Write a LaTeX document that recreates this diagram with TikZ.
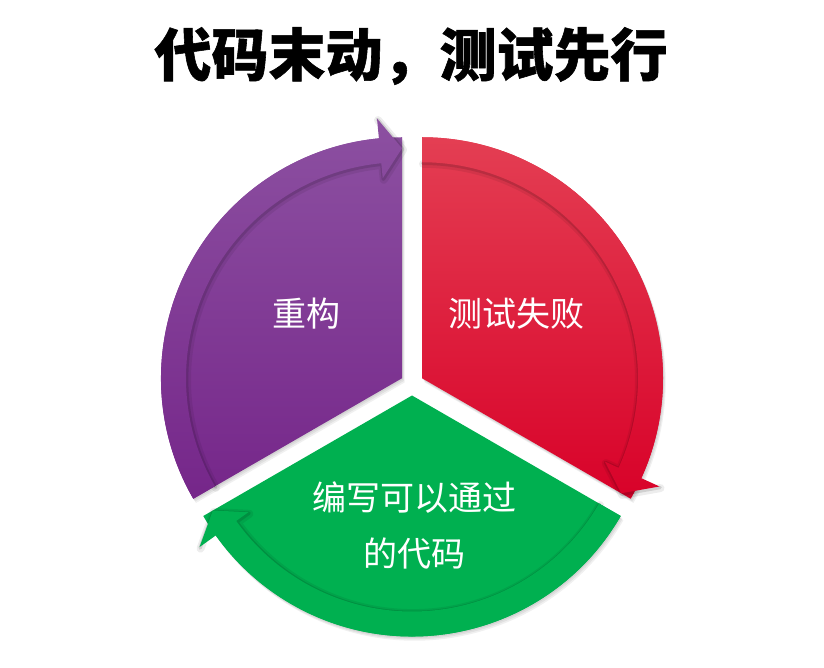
\documentclass[tikz,border=0pt]{standalone}
\usepackage{fontspec}
\newfontfamily\cjk{Noto Sans CJK SC}
\definecolor{purT}{RGB}{140,80,161}
\definecolor{purB}{RGB}{117,37,137}
\definecolor{redT}{RGB}{228,64,84}
\definecolor{redB}{RGB}{216,0,40}
\definecolor{grn}{RGB}{0,176,80}
\tikzset{
  secshade/.style={black,opacity=0.06},
  bandshadeA/.style={draw=black,opacity=0.07,line width=8pt,line join=round,line cap=round,shift={(1,-1.6)}},
  bandshadeB/.style={draw=black,opacity=0.12,line width=3.5pt,line join=round,line cap=round,shift={(0.6,-1)}},
  txt/.style={text=white,font=\cjk\fontsize{34}{56}\selectfont,inner sep=0pt},
  titlestyle/.style={text=black,font=\cjk\bfseries\addfontfeature{FakeBold=1}\fontsize{57}{62}\selectfont,inner sep=0pt}
}
\begin{document}
\begin{tikzpicture}[x=1pt,y=1pt]
\useasboundingbox (0,0) rectangle (824,667);
\fill[white] (0,0) rectangle (824,667);

% ---------- purple sector ----------
\begin{scope}[shift={(402,288.75)}]
\def\secP{(0,0) -- (210:241) arc[start angle=210,end angle=90,radius=241] -- cycle}
\def\bandP{(210:241) arc[start angle=210,end angle=95.5,radius=241] -- (95.5:261) -- (90:230) -- (95.5:201) -- (95.5:216) arc[start angle=95.5,end angle=210,radius=216] -- cycle}
\def\edgeP{(95.5:261) -- (90:230) -- (95.5:201) -- (95.5:216) arc[start angle=95.5,end angle=210,radius=216]}
\foreach \s in {1,2,3}{\fill[secshade,shift={(\s*0.9,-\s*1.4)}] \secP;}
\shade[top color=purT,bottom color=purB] (0,-130) (0,250) \secP;
\path[bandshadeA] \edgeP;
\path[bandshadeB] \edgeP;
\shade[top color=purT,bottom color=purB] (0,-130) (0,250) \bandP;
\end{scope}

% ---------- red sector ----------
\begin{scope}[shift={(422,288.75)}]
\def\secR{(0,0) -- (90:241) arc[start angle=90,end angle=-30,radius=241] -- cycle}
\def\bandR{(90:241) arc[start angle=90,end angle=-24.5,radius=241] -- (-24.5:261) -- (-30:230) -- (-24.5:201) -- (-24.5:216) arc[start angle=-24.5,end angle=90,radius=216] -- cycle}
\def\edgeR{(-24.5:261) -- (-30:230) -- (-24.5:201) -- (-24.5:216) arc[start angle=-24.5,end angle=90,radius=216]}
\foreach \s in {1,2,3}{\fill[secshade,shift={(\s*0.9,-\s*1.4)}] \secR;}
\shade[top color=redT,bottom color=redB] (0,-130) (0,250) \secR;
\path[bandshadeA] \edgeR;
\path[bandshadeB] \edgeR;
\shade[top color=redT,bottom color=redB] (0,-130) (0,250) \bandR;
\end{scope}

% ---------- green sector ----------
\begin{scope}[shift={(412,271.5)}]
\def\secG{(0,0) -- (-30:241) arc[start angle=-30,end angle=-150,radius=241] -- cycle}
\def\bandG{(-30:241) arc[start angle=-30,end angle=-144.5,radius=241] -- (-144.5:261) -- (-150:230) -- (-144.5:201) -- (-144.5:216) arc[start angle=-144.5,end angle=-30,radius=216] -- cycle}
\def\edgeG{(-144.5:261) -- (-150:230) -- (-144.5:201) -- (-144.5:216) arc[start angle=-144.5,end angle=-30,radius=216]}
\foreach \s in {1,2,3}{\fill[secshade,shift={(\s*0.9,-\s*1.4)}] \secG;}
\fill[grn] \secG;
\path[bandshadeA] \edgeG;
\path[bandshadeB] \edgeG;
\fill[grn] \bandG;
\end{scope}

% ---------- texts ----------
\node[titlestyle] (title) at (411,611) {代码末动，测试先行};
\node[txt] (tP) at (306,353) {重构};
\node[txt] (tR) at (516,353) {测试失败};
\node[txt,align=center] (tG) at (414,141) {编写可以通过\\的代码};
\end{tikzpicture}
\end{document}
